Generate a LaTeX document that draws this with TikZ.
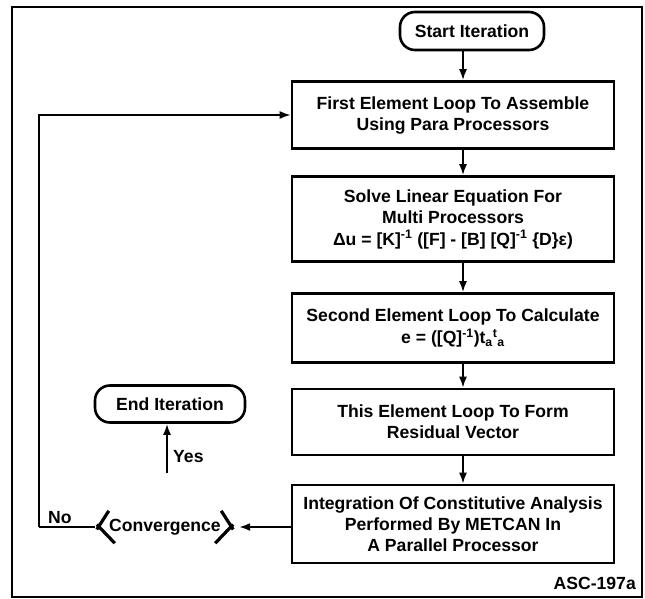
\documentclass[tikz,border=0pt]{standalone}
\usepackage{fontspec}
\setmainfont{Liberation Sans}
\usetikzlibrary{arrows.meta}
\begin{document}
\begin{tikzpicture}[x=1pt,y=-1pt,
  every node/.style={font=\fontsize{17.6}{21}\selectfont\bfseries, inner sep=0pt},
  procbox/.style={draw, line width=2.6pt, minimum width=322, align=center},
  pill/.style={draw, line width=2.6pt, rounded corners=15pt, align=center},
  flow/.style={line width=1.8pt, -{Latex[length=11pt,width=8pt]}},
  plainline/.style={line width=1.8pt},
  chev/.style={line width=3.2pt}]
\useasboundingbox (0,0) rectangle (645,599);
\draw[line width=1.4pt] (12,7) rectangle (642,597);
\coordinate (ax) at (463,0);
\node[pill, minimum width=144, minimum height=38] (start) at (472,31) {Start Iteration};
\node[procbox, minimum height=67] (b1) at (453,115) {First Element Loop To Assemble\\Using Para Processors};
\node[procbox, minimum height=85] (b2) at (453,219) {Solve Linear Equation For\\Multi Processors\\[1pt]Δu = [K]\textsuperscript{-1} ([F] - [B] [Q]\textsuperscript{-1} \{D\}ε)};
\node[procbox, minimum height=69] (b3) at (453,328) {Second Element Loop To Calculate\\[1pt]e = ([Q]\textsuperscript{-1})t\textsubscript{a}\textsuperscript{t}\textsubscript{a}};
\node[procbox, minimum height=66] (b4) at (453,422) {This Element Loop To Form\\Residual Vector};
\node[procbox, minimum height=78] (b5) at (453,524) {Integration Of Constitutive Analysis\\Performed By METCAN In\\A Parallel Processor};
\node[minimum width=136, minimum height=32] (conv) at (165,527) {Convergence};
\draw[chev] ([xshift=12]conv.north west) -- ([yshift=-2.5]conv.west);
\draw[chev] ([yshift=2.5]conv.west) -- ([xshift=18]conv.south west);
\draw[chev] ([xshift=-12]conv.north east) -- ([yshift=-2.5]conv.east);
\draw[chev] ([yshift=2.5]conv.east) -- ([xshift=-18]conv.south east);
\node[pill, minimum width=150, minimum height=37] (end) at (170,404) {End Iteration};
\coordinate (yesfoot) at (167,473);
\coordinate (nocorner) at (39,527);
\node[anchor=west] (yes) at (173,457) {Yes};
\node[anchor=south west] (no) at (48,524) {No};
\node[anchor=south east] (asc) at (636,590) {ASC-197a};
\draw[flow] (start.south -| ax) -- (b1.north -| ax);
\draw[flow] (b1.south -| ax) -- (b2.north -| ax);
\draw[flow] (b2.south -| ax) -- (b3.north -| ax);
\draw[flow] (b3.south -| ax) -- (b4.north -| ax);
\draw[flow] (b4.south -| ax) -- (b5.north -| ax);
\draw[flow] (b5.west |- conv.east) -- ([xshift=6]conv.east);
\draw[flow] (yesfoot) -- (yesfoot |- end.south);
\draw[plainline] ([xshift=-2]conv.west) -- (nocorner);
\draw[flow] (nocorner) |- (b1.west);
\end{tikzpicture}
\end{document}
